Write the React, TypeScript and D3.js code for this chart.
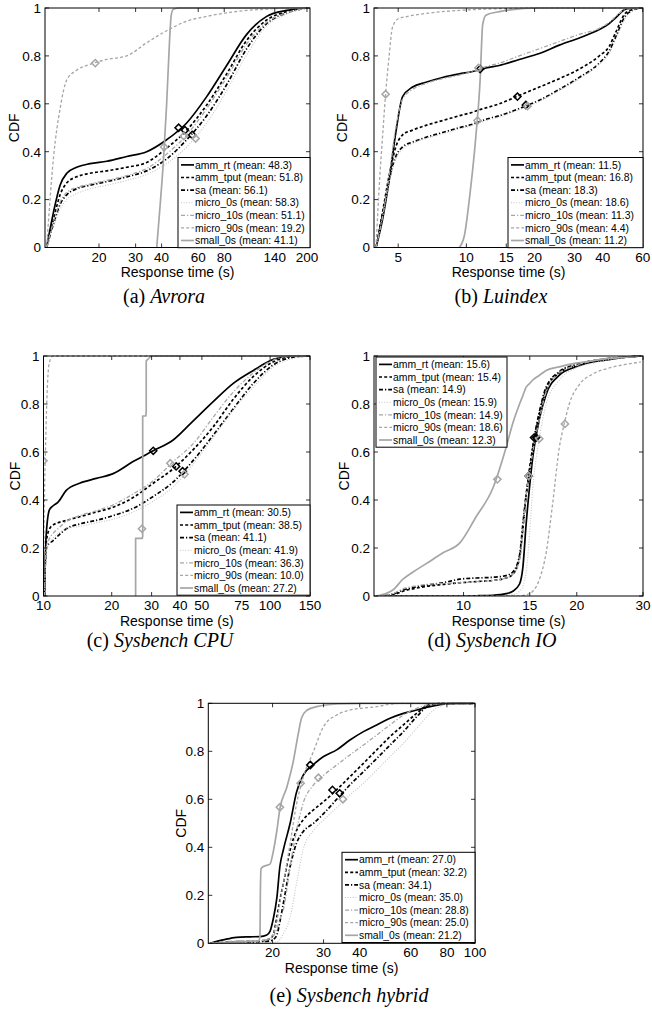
import * as d3 from "d3";

// series order as in the legends
const names = ["amm_rt", "amm_tput", "sa", "micro_0s", "micro_10s", "micro_90s", "small_0s"];
const yTicks = [0, 0.2, 0.4, 0.6, 0.8, 1];

// (a) Avrora
const aTicks = [20, 30, 40, 60, 80, 140, 200];
const aTimes = [11.2, 12.1, 13.0, 14.0, 15.6, 18.1, 21.8, 27.2, 33.9, 42.3, 52.8, 65.9, 82.2, 102.6, 128, 160, 199];
const aAmmRt = [0, 0.15, 0.26, 0.31, 0.335, 0.35, 0.36, 0.38, 0.4, 0.45, 0.52, 0.63, 0.76, 0.89, 0.965, 0.99, 1];
const aAmmTput = [0, 0.12, 0.22, 0.27, 0.295, 0.31, 0.32, 0.335, 0.355, 0.415, 0.49, 0.595, 0.725, 0.865, 0.95, 0.985, 1];
const aSa = [0, 0.1, 0.18, 0.22, 0.245, 0.26, 0.275, 0.295, 0.32, 0.37, 0.45, 0.55, 0.68, 0.83, 0.935, 0.98, 1];
const aMicro0 = [0, 0.09, 0.16, 0.2, 0.225, 0.245, 0.26, 0.28, 0.305, 0.35, 0.42, 0.52, 0.655, 0.805, 0.925, 0.975, 1];
const aMicro10 = [0, 0.11, 0.19, 0.23, 0.25, 0.265, 0.28, 0.3, 0.33, 0.39, 0.47, 0.58, 0.71, 0.85, 0.94, 0.98, 1];
const aMicro90 = [0, 0.38, 0.58, 0.7, 0.74, 0.765, 0.785, 0.8, 0.855, 0.905, 0.945, 0.965, 0.98, 0.99, 0.995, 1, 1];
const aSmallTimes = [37.9, 39.3, 40.8, 42.3, 43.6, 44.5, 45.5, 48.9, 206];
const aSmall0 = [0, 0.17, 0.36, 0.6, 0.85, 0.97, 0.995, 1, 1];
const aMeans = [48.3, 51.8, 56.1, 58.3, 51.1, 19.2, 41.1];
const aMarks = [0.5, 0.49, 0.47, 0.455, 0.465, 0.77, 0.42];

// (b) Luindex
const bTicks = [5, 10, 15, 20, 30, 40, 60];
const bTimes = [3.99, 4.27, 4.56, 4.88, 5.23, 5.79, 6.63, 7.85, 9.3, 10.65, 11.4, 12.2, 13.97, 17.1, 21.0, 25.7, 31.5, 38.6, 42.7, 45.7, 50.6, 58.0];
const bAmmRt = [0, 0.12, 0.28, 0.48, 0.63, 0.67, 0.69, 0.71, 0.725, 0.735, 0.742, 0.75, 0.76, 0.785, 0.81, 0.845, 0.875, 0.91, 0.935, 0.96, 0.995, 1];
const bAmmTput = [0, 0.15, 0.3, 0.42, 0.47, 0.49, 0.51, 0.53, 0.55, 0.565, 0.575, 0.583, 0.6, 0.635, 0.67, 0.705, 0.745, 0.8, 0.84, 0.9, 0.98, 1];
const bSa = [0, 0.14, 0.28, 0.38, 0.42, 0.44, 0.46, 0.48, 0.5, 0.515, 0.525, 0.535, 0.55, 0.58, 0.615, 0.66, 0.71, 0.77, 0.82, 0.88, 0.97, 1];
const bMicro0 = [0, 0.13, 0.27, 0.37, 0.41, 0.435, 0.455, 0.475, 0.495, 0.51, 0.52, 0.53, 0.545, 0.575, 0.61, 0.655, 0.705, 0.765, 0.81, 0.87, 0.96, 1];
const bMicro10 = [0, 0.13, 0.3, 0.5, 0.62, 0.66, 0.685, 0.705, 0.72, 0.735, 0.745, 0.755, 0.77, 0.8, 0.83, 0.86, 0.89, 0.915, 0.94, 0.965, 0.995, 1];
const bMicro90Times = [3.99, 4.15, 4.27, 4.4, 4.56, 4.72, 5.0, 5.5, 7.0, 9.3, 14.0, 21.0, 60.2];
const bMicro90 = [0, 0.3, 0.47, 0.64, 0.8, 0.92, 0.955, 0.965, 0.98, 0.99, 0.997, 1, 1];
const bSmallTimes = [9.3, 9.8, 10.3, 11.0, 11.5, 11.8, 12.2, 14.0, 21.0, 60.2];
const bSmall0 = [0, 0.05, 0.2, 0.46, 0.7, 0.93, 0.97, 0.985, 1, 1];
const bMeans = [11.5, 16.8, 18.3, 18.6, 11.3, 4.4, 11.2];
const bMarks = [0.745, 0.63, 0.595, 0.59, 0.75, 0.64, 0.53];

// (c) Sysbench CPU
const cTicks = [10, 20, 30, 40, 50, 75, 100, 150];
const cTimes = [10.1, 10.27, 10.63, 11.0, 11.57, 12.6, 14.43, 17.1, 20.3, 24.85, 30.5, 37.35, 45.8, 56.1, 68.8, 84.4, 103.4, 126.9, 150];
const cAmmRt = [0, 0.25, 0.36, 0.375, 0.39, 0.44, 0.47, 0.49, 0.51, 0.56, 0.605, 0.65, 0.73, 0.81, 0.886, 0.94, 0.986, 1, 1];
const cAmmTput = [0, 0.22, 0.28, 0.295, 0.305, 0.315, 0.33, 0.35, 0.37, 0.41, 0.47, 0.53, 0.61, 0.705, 0.82, 0.915, 0.976, 0.998, 1];
const cSa = [0, 0.2, 0.22, 0.23, 0.25, 0.28, 0.3, 0.315, 0.335, 0.365, 0.415, 0.475, 0.565, 0.67, 0.78, 0.886, 0.963, 0.995, 1];
const cMicro0 = [0, 0.18, 0.22, 0.24, 0.26, 0.28, 0.29, 0.305, 0.32, 0.35, 0.395, 0.455, 0.55, 0.66, 0.775, 0.87, 0.955, 0.99, 1];
const cMicro10 = [0, 0.2, 0.24, 0.26, 0.28, 0.31, 0.335, 0.355, 0.38, 0.425, 0.48, 0.56, 0.635, 0.745, 0.85, 0.93, 0.983, 1, 1];
const cMicro90Times = [10.0, 10.05, 10.1, 10.2, 10.35, 10.6, 11.0, 150];
const cMicro90 = [0, 0.25, 0.42, 0.6, 0.82, 0.97, 1, 1];
const cSmallTimes = [25.5, 25.5, 27.3, 27.4, 27.4, 28.3, 28.4, 28.4, 29.9, 150];
const cSmall0 = [0, 0.24, 0.24, 0.25, 0.75, 0.75, 0.77, 0.98, 1, 1];
const cMeans = [30.5, 38.5, 41.1, 41.9, 36.3, 10.0, 27.2];
const cMarks = [0.605, 0.54, 0.52, 0.507, 0.553, 0.564, 0.28];

// (d) Sysbench IO
const dTicks = [10, 15, 20, 30];
const dTimes = [5.86, 6.49, 6.9, 7.34, 7.96, 8.82, 9.76, 10.8, 11.97, 12.98, 13.52, 14.09, 14.38, 14.67, 14.97, 15.28, 15.92, 16.58, 17.98, 19.9, 22.05, 24.4, 27.0, 29.6];
const dAmmRt = [0, 0, 0, 0, 0, 0, 0, 0.001, 0.003, 0.01, 0.02, 0.05, 0.12, 0.3, 0.45, 0.58, 0.74, 0.84, 0.92, 0.955, 0.975, 0.985, 0.995, 1];
const dAmmTput = [0, 0.005, 0.02, 0.03, 0.04, 0.048, 0.055, 0.06, 0.065, 0.075, 0.09, 0.16, 0.28, 0.42, 0.53, 0.62, 0.76, 0.86, 0.93, 0.96, 0.98, 0.99, 0.995, 1];
const dSa = [0, 0.008, 0.025, 0.035, 0.045, 0.055, 0.07, 0.075, 0.078, 0.085, 0.1, 0.17, 0.3, 0.42, 0.51, 0.62, 0.77, 0.87, 0.935, 0.965, 0.98, 0.99, 0.995, 1];
const dMicro0 = [0, 0, 0, 0, 0, 0, 0, 0, 0, 0.002, 0.005, 0.02, 0.04, 0.1, 0.25, 0.45, 0.66, 0.8, 0.9, 0.95, 0.97, 0.985, 0.995, 1];
const dMicro10 = [0, 0.01, 0.03, 0.04, 0.048, 0.052, 0.055, 0.06, 0.065, 0.075, 0.09, 0.15, 0.27, 0.42, 0.51, 0.6, 0.74, 0.85, 0.93, 0.96, 0.98, 0.99, 0.995, 1];
const dMicro90Times = [5.86, 14.0, 14.67, 15.28, 15.92, 16.58, 17.27, 17.98, 18.54, 19.1, 20.3, 22.05, 24.4, 27.0, 29.6];
const dMicro90 = [0, 0, 0.005, 0.02, 0.07, 0.18, 0.39, 0.62, 0.72, 0.8, 0.88, 0.925, 0.95, 0.965, 0.975];
const dSmall0 = [0, 0.025, 0.07, 0.1, 0.135, 0.18, 0.22, 0.33, 0.45, 0.62, 0.72, 0.8, 0.835, 0.87, 0.885, 0.9, 0.92, 0.94, 0.955, 0.97, 0.98, 0.99, 0.995, 1];
const dMeans = [15.6, 15.4, 14.9, 15.9, 14.9, 18.6, 12.3];
const dMarks = [0.66, 0.66, 0.5, 0.655, 0.5, 0.717, 0.486];

// (e) Sysbench hybrid
const eTicks = [20, 30, 40, 60, 80, 100];
const eTimes = [12.16, 13.5, 15.0, 16.7, 18.1, 19.1, 19.6, 20.1, 20.7, 21.2, 21.8, 23.0, 24.2, 25.5, 27.7, 30.0, 33.3, 37.0, 41.2, 45.8, 50.9, 56.6, 62.9, 69.9, 77.8, 86.5, 98.7];
const eAmmRt = [0, 0.014, 0.025, 0.027, 0.028, 0.035, 0.05, 0.1, 0.19, 0.32, 0.39, 0.5, 0.63, 0.7, 0.745, 0.778, 0.806, 0.847, 0.882, 0.91, 0.9375, 0.958, 0.972, 0.986, 0.996, 1, 1];
const eAmmTput = [0, 0.003, 0.007, 0.008, 0.01, 0.014, 0.02, 0.035, 0.11, 0.18, 0.25, 0.39, 0.47, 0.514, 0.556, 0.59, 0.64, 0.694, 0.75, 0.806, 0.861, 0.91, 0.958, 0.996, 1, 1, 1];
const eSa = [0, 0.002, 0.004, 0.005, 0.006, 0.008, 0.01, 0.015, 0.035, 0.09, 0.167, 0.32, 0.417, 0.465, 0.5, 0.54, 0.6, 0.66, 0.715, 0.77, 0.826, 0.882, 0.944, 0.993, 1, 1, 1];
const eMicro0 = [0, 0, 0, 0.001, 0.002, 0.003, 0.003, 0.004, 0.005, 0.015, 0.04, 0.11, 0.25, 0.39, 0.47, 0.514, 0.565, 0.618, 0.667, 0.722, 0.778, 0.833, 0.896, 0.958, 0.993, 1, 1];
const eMicro10 = [0, 0.006, 0.01, 0.01, 0.012, 0.015, 0.02, 0.03, 0.06, 0.1, 0.14, 0.32, 0.47, 0.583, 0.66, 0.7, 0.743, 0.785, 0.826, 0.868, 0.91, 0.951, 0.979, 0.996, 1, 1, 1];
const eMicro90 = [0, 0.003, 0.006, 0.008, 0.01, 0.015, 0.02, 0.04, 0.09, 0.17, 0.25, 0.417, 0.58, 0.69, 0.8, 0.903, 0.951, 0.972, 0.98, 0.986, 0.996, 1, 1, 1, 1, 1, 1];
const eSmallTimes = [12.16, 15.0, 17.9, 18.1, 18.15, 18.25, 18.6, 19.6, 20.1, 20.7, 21.2, 22.4, 23.6, 24.55, 25.2, 26.2, 28.4, 33.3, 41.2, 100];
const eSmall0 = [0, 0.005, 0.01, 0.03, 0.2, 0.31, 0.32, 0.33, 0.38, 0.47, 0.56, 0.65, 0.76, 0.875, 0.94, 0.97, 0.986, 0.997, 1, 1];
const eMeans = [27.0, 32.2, 34.1, 35.0, 28.8, 25.0, 21.2];
const eMarks = [0.743, 0.639, 0.625, 0.6, 0.69, 0.667, 0.567];

// line look per series (same order as names)
const styles = [
  {color: "#000", width: 1.7, dash: null},
  {color: "#000", width: 1.7, dash: "3,2.2"},
  {color: "#000", width: 1.7, dash: "4,2,1.2,2"},
  {color: "#c4c4c4", width: 1.1, dash: "1,1.6"},
  {color: "#a6a6a6", width: 1.3, dash: "4,2,1.2,2"},
  {color: "#a6a6a6", width: 1.3, dash: "3,2.2"},
  {color: "#a6a6a6", width: 1.7, dash: null},
];
const markColor = ["#000", "#000", "#000", "#a6a6a6", "#a6a6a6", "#a6a6a6", "#a6a6a6"];

const panels = [
  {id: "a", cap: "(a) ", title: "Avrora", ticks: aTicks, domain: [11, 206.8],
    times: [aTimes, aTimes, aTimes, aTimes, aTimes, aTimes, aSmallTimes],
    values: [aAmmRt, aAmmTput, aSa, aMicro0, aMicro10, aMicro90, aSmall0], means: aMeans, marks: aMarks,
    x0: 45, x1: 310, y0: 8, y1: 247.5, legend: {x: 178, y: 157.5, w: 132}, capX: 164, capY: 303, ylab: 31},
  {id: "b", cap: "(b) ", title: "Luindex", ticks: bTicks, domain: [3.91, 60.2],
    times: [bTimes, bTimes, bTimes, bTimes, bTimes, bMicro90Times, bSmallTimes],
    values: [bAmmRt, bAmmTput, bSa, bMicro0, bMicro10, bMicro90, bSmall0], means: bMeans, marks: bMarks,
    x0: 374, x1: 643, y0: 8, y1: 247.5, legend: {x: 508, y: 157.5, w: 135}, capX: 501, capY: 303, ylab: 32},
  {id: "c", cap: "(c) ", title: "Sysbench CPU", ticks: cTicks, domain: [10, 150],
    times: [cTimes, cTimes, cTimes, cTimes, cTimes, cMicro90Times, cSmallTimes],
    values: [cAmmRt, cAmmTput, cSa, cMicro0, cMicro10, cMicro90, cSmall0], means: cMeans, marks: cMarks,
    x0: 43.5, x1: 310, y0: 356, y1: 596, legend: {x: 177, y: 505, w: 133}, capX: 160, capY: 647, ylab: 29},
  {id: "d", cap: "(d) ", title: "Sysbench IO", ticks: dTicks, domain: [5.78, 30],
    times: [dTimes, dTimes, dTimes, dTimes, dTimes, dMicro90Times, dTimes],
    values: [dAmmRt, dAmmTput, dSa, dMicro0, dMicro10, dMicro90, dSmall0], means: dMeans, marks: dMarks,
    x0: 374, x1: 643, y0: 356, y1: 596, legend: {x: 376, y: 357, w: 131}, capX: 492, capY: 647, ylab: 30},
  {id: "e", cap: "(e) ", title: "Sysbench hybrid", ticks: eTicks, domain: [12, 100],
    times: [eTimes, eTimes, eTimes, eTimes, eTimes, eTimes, eSmallTimes],
    values: [eAmmRt, eAmmTput, eSa, eMicro0, eMicro10, eMicro90, eSmall0], means: eMeans, marks: eMarks,
    x0: 208.3, x1: 475, y0: 703.3, y1: 943.3, legend: {x: 342, y: 852.3, w: 133}, capX: 349, capY: 1002, ylab: 27},
];

const sans = "'Liberation Sans', Arial, Helvetica, sans-serif";
const serif = "'Liberation Serif', 'Times New Roman', serif";

function diamond(r) {
  return `M0,${-r}L${r},0L0,${r}L${-r},0Z`;
}

function Panel({p}) {
  const x = d3.scaleLog().domain(p.domain).range([p.x0, p.x1]);
  const y = d3.scaleLinear().domain([0, 1]).range([p.y1, p.y0]);
  const midX = (p.x0 + p.x1) / 2;
  const midY = (p.y0 + p.y1) / 2;
  const rowH = 12.6;

  const paths = names.map((n, i) => {
    const t = p.times[i];
    const pts = t.map((v, k) => [v, p.values[i][k]]);
    const dup = t.some((v, k) => k > 0 && v === t[k - 1]);
    const line = d3.line()
      .x(d => x(d[0]))
      .y(d => y(d[1]))
      .curve(dup ? d3.curveLinear : d3.curveMonotoneX);
    return line(pts);
  });

  return (
    <g>
      <defs>
        <clipPath id={"clip-" + p.id}>
          <rect x={p.x0} y={p.y0 - 1} width={p.x1 - p.x0} height={p.y1 - p.y0 + 1}/>
        </clipPath>
      </defs>
      <rect x={p.x0} y={p.y0} width={p.x1 - p.x0} height={p.y1 - p.y0} fill="white"/>
      <g clipPath={`url(#clip-${p.id})`}>
        {paths.map((d, i) =>
          <path key={i} d={d} fill="none" stroke={styles[i].color} strokeWidth={styles[i].width}
                strokeDasharray={styles[i].dash || undefined} strokeLinejoin="round"/>
        )}
        {names.map((n, i) =>
          <path key={"m" + i} d={diamond(3.6)} transform={`translate(${x(p.means[i])},${y(p.marks[i])})`}
                fill="none" stroke={markColor[i]} strokeWidth={1.5}/>
        )}
      </g>
      {/* ticks inside the box */}
      {p.ticks.map(t =>
        <g key={"xt" + t}>
          <line x1={x(t)} x2={x(t)} y1={p.y1} y2={p.y1 - 4} stroke="#000" strokeWidth={0.8}/>
          <line x1={x(t)} x2={x(t)} y1={p.y0} y2={p.y0 + 4} stroke="#000" strokeWidth={0.8}/>
          <text x={x(t)} y={p.y1 + 14} textAnchor="middle" fontSize={13.5} fontFamily={sans}>{t}</text>
        </g>
      )}
      {yTicks.map(t =>
        <g key={"yt" + t}>
          <line x1={p.x0} x2={p.x0 + 4} y1={y(t)} y2={y(t)} stroke="#000" strokeWidth={0.8}/>
          <line x1={p.x1} x2={p.x1 - 4} y1={y(t)} y2={y(t)} stroke="#000" strokeWidth={0.8}/>
          <text x={p.x0 - 4} y={y(t)} dy="0.36em" textAnchor="end" fontSize={13.5} fontFamily={sans}>{String(t)}</text>
        </g>
      )}
      <rect x={p.x0} y={p.y0} width={p.x1 - p.x0} height={p.y1 - p.y0} fill="none" stroke="#000" strokeWidth={1}/>
      <text x={midX} y={p.y1 + 29.5} textAnchor="middle" fontSize={14} fontFamily={sans}>Response time (s)</text>
      <text transform={`translate(${p.x0 - p.ylab + 5},${midY}) rotate(-90)`} textAnchor="middle"
            fontSize={14} fontFamily={sans}>CDF</text>

      {/* legend */}
      <rect x={p.legend.x} y={p.legend.y} width={p.legend.w} height={7 * rowH + 2} fill="white" stroke="#000" strokeWidth={1}/>
      {names.map((n, i) => {
        const ry = p.legend.y + 7.4 + i * rowH;
        return (
          <g key={"l" + i}>
            <line x1={p.legend.x + 3} x2={p.legend.x + 16} y1={ry} y2={ry} stroke={styles[i].color}
                  strokeWidth={styles[i].width} strokeDasharray={styles[i].dash || undefined}/>
            <text x={p.legend.x + 17} y={ry} dy="0.36em" fontSize={10.4} fontFamily={sans}>
              {`${n} (mean: ${p.means[i].toFixed(1)})`}
            </text>
          </g>
        );
      })}

      <text x={p.capX} y={p.capY} textAnchor="middle" fontSize={20} fontFamily={serif}>
        {p.cap}<tspan fontStyle="italic">{p.title}</tspan>
      </text>
    </g>
  );
}

export default function App() {
  return (
    <svg width={652} height={1015} viewBox="0 0 652 1015"
         style={{position: "absolute", left: 0, top: 0, display: "block", background: "white"}}>
      {panels.map(p => <Panel key={p.id} p={p}/>)}
    </svg>
  );
}
